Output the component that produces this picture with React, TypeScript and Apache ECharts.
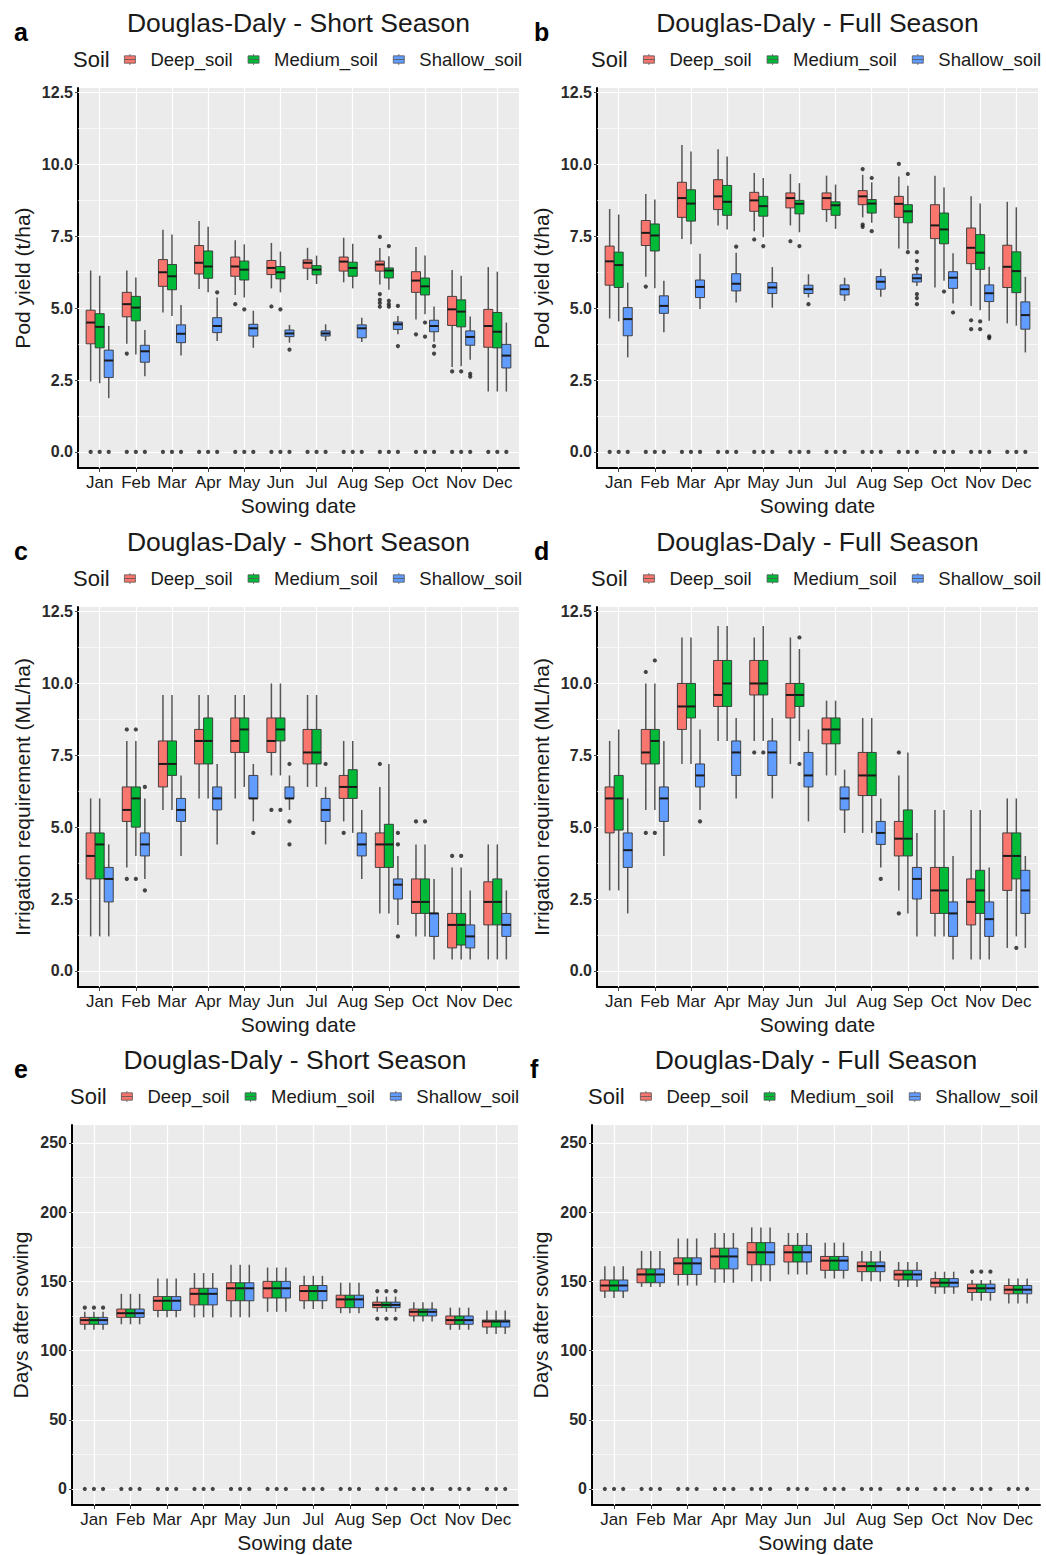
import React, { useEffect, useRef } from 'react';
import * as echarts from 'echarts';

const FONT = '"Liberation Sans", Arial, Helvetica, sans-serif';

const months = ['Jan', 'Feb', 'Mar', 'Apr', 'May', 'Jun', 'Jul', 'Aug', 'Sep', 'Oct', 'Nov', 'Dec'];
const monthPos = [1, 2, 3, 4, 5, 6, 7, 8, 9, 10, 11, 12];
const soils = ['Deep_soil', 'Medium_soil', 'Shallow_soil'];
const soilColors = ['#F8766D', '#00BA38', '#619CFF'];
const soilOffsets = [-0.25, 0, 0.25];

const yieldTicks = [0, 2.5, 5, 7.5, 10, 12.5];
const yieldMinor = [1.25, 3.75, 6.25, 8.75, 11.25];
const daysTicks = [0, 50, 100, 150, 200, 250];
const daysMinor = [25, 75, 125, 175, 225];

// each row: [lower whisker, Q1, median, Q3, upper whisker] for Jan..Dec
// a: Pod yield, short season
const aDeep = [
  [2.45, 3.76, 4.5, 4.93, 6.31], [3.76, 4.7, 5.14, 5.55, 6.31], [4.85, 5.76, 6.25, 6.69, 7.73],
  [5.67, 6.19, 6.58, 7.18, 8.03], [5.46, 6.11, 6.45, 6.78, 7.36], [5.69, 6.17, 6.4, 6.66, 7.27],
  [5.98, 6.39, 6.58, 6.68, 7.1], [5.9, 6.29, 6.62, 6.78, 7.45], [5.82, 6.29, 6.52, 6.64, 7.09],
  [4.61, 5.55, 5.96, 6.27, 7.13], [2.95, 4.4, 4.96, 5.41, 6.33], [2.1, 3.64, 4.38, 4.96, 6.43],
];
const aMedium = [
  [2.39, 3.62, 4.35, 4.81, 6.13], [3.39, 4.56, 5.02, 5.41, 6.07], [4.73, 5.64, 6.11, 6.52, 7.56],
  [5.55, 6.04, 6.45, 6.99, 7.83], [5.37, 5.98, 6.34, 6.64, 7.22], [5.55, 6.02, 6.25, 6.45, 6.97],
  [5.84, 6.16, 6.34, 6.48, 6.83], [5.69, 6.11, 6.4, 6.6, 7.24], [5.64, 6.05, 6.31, 6.4, 6.81],
  [4.79, 5.46, 5.76, 6.05, 6.83], [2.98, 4.35, 4.88, 5.29, 6.13], [2.1, 3.62, 4.18, 4.85, 6.27],
];
const aShallow = [
  [1.87, 2.59, 3.18, 3.54, 4.38], [2.63, 3.12, 3.5, 3.71, 4.24], [3.35, 3.8, 4.11, 4.42, 5.11],
  [3.86, 4.15, 4.38, 4.67, 5.37], [3.62, 4.03, 4.3, 4.44, 4.91], [3.8, 4.01, 4.12, 4.24, 4.42],
  [3.86, 4.03, 4.12, 4.21, 4.44], [3.82, 3.97, 4.3, 4.42, 4.67], [4.09, 4.26, 4.44, 4.52, 4.73],
  [3.83, 4.18, 4.38, 4.58, 5.06], [3.21, 3.71, 4.0, 4.21, 4.71], [2.1, 2.92, 3.35, 3.74, 4.5],
];
// outliers: [month (1-12), soil index, value]
const aOutliers = [
  [2, 0, 3.42], [4, 2, 5.55], [5, 0, 5.14], [5, 1, 4.96], [6, 0, 5.06], [6, 1, 4.96], [6, 2, 3.56],
  [9, 0, 7.48], [9, 0, 5.49], [9, 0, 5.29], [9, 0, 5.18], [9, 0, 5.05], [9, 1, 7.16], [9, 1, 5.26],
  [9, 1, 5.14], [9, 1, 5.05], [9, 2, 5.08], [9, 2, 3.68], [10, 0, 4.09], [10, 1, 4.5], [10, 1, 4.01],
  [10, 2, 3.68], [10, 2, 3.42], [11, 0, 2.8], [11, 1, 2.8], [11, 2, 2.72], [11, 2, 2.62],
];

// b: Pod yield, full season
const bDeep = [
  [4.64, 5.8, 6.63, 7.16, 8.45], [6.09, 7.18, 7.62, 8.05, 8.97], [7.41, 8.16, 8.83, 9.38, 10.68],
  [7.88, 8.43, 8.89, 9.47, 10.53], [7.68, 8.37, 8.75, 9.03, 9.7], [7.88, 8.49, 8.83, 9.01, 9.67],
  [8.0, 8.43, 8.83, 9.01, 9.61], [8.16, 8.6, 8.89, 9.09, 9.64], [7.08, 8.16, 8.63, 8.89, 9.58],
  [5.72, 7.42, 7.88, 8.6, 9.61], [5.08, 6.55, 7.1, 7.79, 8.89], [4.47, 5.72, 6.44, 7.19, 8.7],
];
const bMedium = [
  [4.54, 5.72, 6.5, 6.95, 8.26], [5.69, 6.99, 7.53, 7.93, 8.78], [7.22, 8.03, 8.64, 9.12, 10.45],
  [7.74, 8.23, 8.7, 9.27, 10.28], [7.47, 8.2, 8.55, 8.89, 9.53], [7.64, 8.28, 8.63, 8.75, 9.35],
  [7.76, 8.23, 8.58, 8.7, 9.3], [7.97, 8.31, 8.64, 8.78, 9.38], [7.04, 7.97, 8.37, 8.6, 9.26],
  [5.95, 7.24, 7.74, 8.31, 9.2], [4.93, 6.35, 6.93, 7.56, 8.64], [4.39, 5.54, 6.29, 6.96, 8.51],
];
const bShallow = [
  [3.29, 4.04, 4.62, 5.02, 5.89], [4.16, 4.82, 5.08, 5.43, 5.95], [4.97, 5.37, 5.74, 5.98, 6.89],
  [5.2, 5.6, 5.85, 6.2, 6.93], [5.02, 5.51, 5.72, 5.89, 6.43], [5.37, 5.51, 5.66, 5.8, 6.18],
  [5.25, 5.46, 5.66, 5.81, 6.06], [5.4, 5.66, 5.92, 6.1, 6.37], [5.77, 5.91, 6.04, 6.18, 6.32],
  [5.16, 5.69, 6.06, 6.27, 6.91], [4.56, 5.23, 5.52, 5.81, 6.44], [3.46, 4.27, 4.76, 5.22, 6.09],
];
const bOutliers = [
  [2, 0, 5.75], [4, 2, 7.14], [5, 0, 7.39], [5, 1, 7.16], [6, 0, 7.33], [6, 1, 7.16], [6, 2, 5.14],
  [8, 0, 9.84], [8, 0, 7.91], [8, 0, 7.83], [8, 1, 9.53], [8, 1, 7.68], [9, 0, 10.02], [9, 1, 9.67],
  [9, 1, 6.95], [9, 2, 6.95], [9, 2, 6.64], [9, 2, 6.37], [9, 2, 5.49], [9, 2, 5.35], [9, 2, 5.14],
  [10, 1, 5.58], [10, 2, 4.85], [11, 0, 4.58], [11, 0, 4.27], [11, 1, 4.54], [11, 1, 4.27],
  [11, 2, 4.02], [11, 2, 3.96],
];

// c: Irrigation requirement, short season
const cDeep = [
  [1.2, 3.2, 4.0, 4.8, 6.0], [3.6, 5.2, 5.6, 6.4, 8.0], [5.6, 6.4, 7.2, 8.0, 9.6], [6.0, 7.2, 8.0, 8.4, 9.6],
  [6.0, 7.6, 8.0, 8.8, 9.6], [6.8, 7.6, 8.0, 8.8, 10.0], [6.4, 7.2, 7.6, 8.4, 9.6], [5.2, 6.0, 6.4, 6.8, 8.0],
  [2.0, 3.6, 4.4, 4.8, 6.4], [1.2, 2.0, 2.4, 3.2, 4.4], [0.4, 0.8, 1.6, 2.0, 3.6], [0.4, 1.6, 2.4, 3.1, 4.4],
];
const cMedium = [
  [1.2, 3.2, 4.4, 4.8, 6.0], [4.0, 5.0, 6.0, 6.4, 8.0], [5.6, 6.8, 7.2, 8.0, 9.6], [6.0, 7.2, 8.0, 8.8, 9.6],
  [6.4, 7.6, 8.4, 8.8, 9.6], [6.8, 8.0, 8.4, 8.8, 10.0], [6.4, 7.2, 7.6, 8.4, 9.6], [4.8, 6.0, 6.4, 7.0, 8.0],
  [2.0, 3.6, 4.4, 5.1, 7.2], [1.2, 2.0, 2.4, 3.2, 4.4], [0.4, 0.9, 1.6, 2.0, 3.6], [0.4, 1.6, 2.4, 3.2, 4.4],
];
const cShallow = [
  [1.2, 2.4, 3.2, 3.6, 4.4], [3.2, 4.0, 4.4, 4.8, 6.0], [4.0, 5.2, 5.6, 6.0, 6.8], [4.4, 5.6, 6.0, 6.4, 7.2],
  [5.2, 6.0, 6.0, 6.8, 7.2], [5.6, 6.0, 6.0, 6.4, 6.8], [4.4, 5.2, 5.6, 6.0, 6.4], [3.2, 4.0, 4.4, 4.8, 5.6],
  [1.6, 2.5, 3.0, 3.2, 4.0], [0.4, 1.2, 2.0, 2.0, 3.2], [0.4, 0.8, 1.2, 1.6, 2.8], [0.4, 1.2, 1.6, 2.0, 2.8],
];
const cOutliers = [
  [2, 0, 8.4], [2, 0, 3.2], [2, 1, 8.4], [2, 1, 3.2], [2, 2, 6.4], [2, 2, 2.8], [5, 2, 4.8],
  [6, 0, 5.6], [6, 1, 5.6], [6, 2, 7.2], [6, 2, 5.2], [6, 2, 4.4], [7, 2, 7.2], [8, 0, 4.8],
  [9, 0, 7.2], [9, 2, 4.8], [9, 2, 4.4], [9, 2, 1.2], [10, 0, 5.2], [10, 1, 5.2], [11, 0, 4.0], [11, 1, 4.0],
];

// d: Irrigation requirement, full season
const dDeep = [
  [2.8, 4.8, 6.0, 6.4, 8.0], [5.6, 7.2, 7.6, 8.4, 10.0], [7.2, 8.4, 9.2, 10.0, 11.6], [8.0, 9.2, 9.6, 10.8, 12.0],
  [8.0, 9.6, 10.0, 10.8, 11.6], [7.2, 8.8, 9.6, 10.0, 11.6], [6.8, 7.9, 8.4, 8.8, 9.4], [4.8, 6.1, 6.8, 7.6, 8.8],
  [2.8, 4.0, 4.6, 5.2, 6.8], [1.2, 2.0, 2.8, 3.6, 5.6], [0.4, 1.6, 2.4, 3.2, 5.6], [0.8, 2.8, 4.0, 4.8, 6.0],
];
const dMedium = [
  [2.8, 4.9, 6.0, 6.8, 8.4], [5.6, 7.2, 8.0, 8.4, 10.0], [7.2, 8.8, 9.2, 10.0, 11.6], [8.0, 9.2, 10.0, 10.8, 12.0],
  [8.0, 9.6, 10.0, 10.8, 12.0], [8.0, 9.2, 9.6, 10.0, 11.2], [6.8, 7.9, 8.4, 8.8, 9.4], [4.8, 6.1, 6.8, 7.6, 8.8],
  [2.0, 4.0, 4.6, 5.6, 7.6], [1.2, 2.0, 2.8, 3.6, 5.6], [0.4, 2.0, 2.8, 3.5, 5.6], [1.2, 3.2, 4.0, 4.8, 6.0],
];
const dShallow = [
  [2.0, 3.6, 4.2, 4.8, 6.0], [4.0, 5.2, 6.0, 6.4, 8.0], [5.6, 6.4, 6.8, 7.2, 8.4], [6.0, 6.8, 7.6, 8.0, 8.8],
  [6.0, 6.8, 7.6, 8.0, 8.8], [5.2, 6.4, 6.8, 7.6, 8.4], [4.8, 5.6, 6.0, 6.4, 7.0], [3.6, 4.4, 4.8, 5.2, 6.0],
  [1.2, 2.5, 3.2, 3.6, 4.8], [0.4, 1.2, 2.0, 2.4, 4.0], [0.4, 1.2, 1.8, 2.4, 3.6], [0.8, 2.0, 2.8, 3.5, 4.0],
];
const dOutliers = [
  [2, 0, 10.4], [2, 0, 4.8], [2, 1, 10.8], [2, 1, 4.8], [3, 2, 5.2], [5, 0, 7.6], [5, 1, 7.6],
  [6, 1, 11.6], [6, 1, 7.2], [8, 2, 3.2], [9, 0, 7.6], [9, 0, 2.0], [12, 1, 0.8],
];

// e: Days after sowing, short season
const eDeep = [
  [115, 119, 122, 124, 128], [119, 124, 127, 130, 141], [124, 129, 136, 139, 152], [124, 133, 141, 145, 156],
  [124, 136, 145, 149, 162], [128, 138, 145, 150, 160], [130, 136, 143, 147, 154], [127, 131, 137, 140, 149],
  [128, 131, 133, 135, 139], [121, 125, 128, 130, 135], [115, 119, 122, 125, 131], [112, 117, 121, 122, 129],
];
const eMedium = [
  [115, 119, 122, 124, 128], [119, 124, 127, 130, 141], [124, 129, 136, 139, 152], [124, 133, 141, 145, 156],
  [124, 136, 145, 149, 162], [128, 138, 145, 150, 160], [130, 136, 143, 147, 154], [127, 131, 137, 140, 149],
  [128, 131, 133, 135, 139], [121, 125, 128, 130, 135], [115, 119, 122, 125, 131], [112, 117, 121, 122, 129],
];
const eShallow = [
  [115, 119, 122, 124, 128], [119, 124, 127, 130, 141], [124, 129, 136, 139, 152], [124, 133, 141, 145, 156],
  [124, 136, 145, 149, 162], [128, 138, 145, 150, 160], [130, 136, 143, 147, 154], [127, 131, 137, 140, 149],
  [128, 131, 133, 135, 139], [121, 125, 128, 130, 135], [115, 119, 122, 125, 131], [112, 117, 121, 122, 129],
];
const eOutliers = [
  [1, 0, 131], [1, 1, 131], [1, 2, 131], [9, 0, 143], [9, 1, 143], [9, 2, 143], [9, 0, 123], [9, 1, 123], [9, 2, 123],
];

// f: Days after sowing, full season
const fDeep = [
  [138, 143, 147, 151, 161], [146, 149, 155, 159, 172], [147, 155, 163, 167, 181], [149, 159, 168, 174, 185],
  [150, 162, 171, 178, 189], [155, 164, 171, 176, 185], [152, 158, 165, 168, 178], [150, 157, 161, 164, 172],
  [146, 151, 155, 158, 164], [141, 146, 149, 152, 157], [136, 142, 145, 148, 151], [134, 141, 144, 147, 152],
];
const fMedium = [
  [138, 143, 147, 151, 161], [146, 149, 155, 159, 172], [147, 155, 163, 167, 181], [149, 159, 168, 174, 185],
  [150, 162, 171, 178, 189], [155, 164, 171, 176, 185], [152, 158, 165, 168, 178], [150, 157, 161, 164, 172],
  [146, 151, 155, 158, 164], [141, 146, 149, 152, 157], [136, 142, 145, 148, 151], [134, 141, 144, 147, 152],
];
const fShallow = [
  [138, 143, 147, 151, 161], [146, 149, 155, 159, 172], [147, 155, 163, 167, 181], [149, 159, 168, 174, 185],
  [150, 162, 171, 178, 189], [155, 164, 171, 176, 185], [152, 158, 165, 168, 178], [150, 157, 161, 164, 172],
  [146, 151, 155, 158, 164], [141, 146, 149, 152, 157], [136, 142, 145, 148, 151], [134, 141, 144, 147, 152],
];
const fOutliers = [[11, 0, 157], [11, 1, 157], [11, 2, 157]];

// months in which every soil has failed runs at 0 (panels a, b, e, f)
const failedRunMonths = [1, 2, 3, 4, 5, 6, 7, 8, 9, 10, 11, 12];

const panels = [
  { letter: 'a', title: 'Douglas-Daly - Short Season', yName: 'Pod yield (t/ha)', boxes: [aDeep, aMedium, aShallow], outliers: aOutliers, zeros: true, kind: 'yield', left: 78, top: 88, width: 441, soilLeft: 73, legendLeft: 124, letterLeft: 14, nameGap: 45 },
  { letter: 'b', title: 'Douglas-Daly - Full Season', yName: 'Pod yield (t/ha)', boxes: [bDeep, bMedium, bShallow], outliers: bOutliers, zeros: true, kind: 'yield', left: 597, top: 88, width: 441, soilLeft: 591, legendLeft: 643, letterLeft: 534, nameGap: 45 },
  { letter: 'c', title: 'Douglas-Daly - Short Season', yName: 'Irrigation requirement (ML/ha)', boxes: [cDeep, cMedium, cShallow], outliers: cOutliers, zeros: false, kind: 'yield', left: 78, top: 607, width: 441, soilLeft: 73, legendLeft: 124, letterLeft: 14, nameGap: 45 },
  { letter: 'd', title: 'Douglas-Daly - Full Season', yName: 'Irrigation requirement (ML/ha)', boxes: [dDeep, dMedium, dShallow], outliers: dOutliers, zeros: false, kind: 'yield', left: 597, top: 607, width: 441, soilLeft: 591, legendLeft: 643, letterLeft: 534, nameGap: 45 },
  { letter: 'e', title: 'Douglas-Daly - Short Season', yName: 'Days after sowing', boxes: [eDeep, eMedium, eShallow], outliers: eOutliers, zeros: true, kind: 'days', left: 72, top: 1125, width: 446, soilLeft: 70, legendLeft: 121, letterLeft: 14, nameGap: 41 },
  { letter: 'f', title: 'Douglas-Daly - Full Season', yName: 'Days after sowing', boxes: [fDeep, fMedium, fShallow], outliers: fOutliers, zeros: true, kind: 'days', left: 592, top: 1125, width: 448, soilLeft: 588, legendLeft: 640, letterLeft: 530, nameGap: 41 },
];

const PLOT_H = 380;
const BOX_HALF = 0.125;
const WHISKER = '#555555';
const BORDER = '#333333';

function makeRenderItem(offset: number, color: string) {
  return function (_params: any, api: any) {
    const x = api.value(0) + offset;
    const lo = api.coord([x, api.value(1)]);
    const q1 = api.coord([x, api.value(2)]);
    const md = api.coord([x, api.value(3)]);
    const q3 = api.coord([x, api.value(4)]);
    const hi = api.coord([x, api.value(5)]);
    const hw = api.size([BOX_HALF, 0])[0];
    const cx = lo[0];
    return {
      type: 'group',
      children: [
        { type: 'line', shape: { x1: cx, y1: hi[1], x2: cx, y2: q3[1] }, style: { stroke: WHISKER, lineWidth: 1.5 } },
        { type: 'line', shape: { x1: cx, y1: q1[1], x2: cx, y2: lo[1] }, style: { stroke: WHISKER, lineWidth: 1.5 } },
        { type: 'rect', shape: { x: cx - hw, y: q3[1], width: hw * 2, height: Math.max(q1[1] - q3[1], 1) }, style: { fill: color, stroke: BORDER, lineWidth: 0.9 } },
        { type: 'line', shape: { x1: cx - hw, y1: md[1], x2: cx + hw, y2: md[1] }, style: { stroke: '#1a1a1a', lineWidth: 2 } },
      ],
    };
  };
}

const legendIcon = 'path://M0,2H12V10H0ZM0,6H12M6,0V2M6,10V12';

function buildOption() {
  const option: any = {
    animation: false,
    textStyle: { fontFamily: FONT },
    title: [],
    legend: [],
    grid: [],
    xAxis: [],
    yAxis: [],
    series: [],
  };
  panels.forEach((p, pi) => {
    const isDays = p.kind === 'days';
    const ticks = isDays ? daysTicks : yieldTicks;
    const minor = isDays ? daysMinor : yieldMinor;
    const yMin = isDays ? -11.6 : -0.56;
    const yMax = isDays ? 263 : 12.66;

    option.title.push({
      text: p.title, left: p.left + p.width / 2, top: p.top - 79, textAlign: 'center', padding: 0,
      textStyle: { fontSize: 26.5, fontWeight: 'normal', color: '#1a1a1a', fontFamily: FONT },
    });
    option.title.push({
      text: p.letter, left: p.letterLeft, top: p.top - 69, padding: 0,
      textStyle: { fontSize: 25, fontWeight: 'bold', color: '#000', fontFamily: FONT },
    });
    option.title.push({
      text: 'Soil', left: p.soilLeft, top: p.top - 40, padding: 0,
      textStyle: { fontSize: 22, fontWeight: 'normal', color: '#1a1a1a', fontFamily: FONT },
    });
    option.legend.push({
      data: soils, left: p.legendLeft, top: p.top - 38, padding: 0, itemGap: 15,
      itemWidth: 11, itemHeight: 11, icon: legendIcon, selectedMode: false,
      itemStyle: { borderColor: '#555', borderWidth: 0.8 },
      textStyle: { fontSize: 18.5, color: '#1a1a1a', fontFamily: FONT, padding: [0, 0, 0, 10] },
    });
    option.grid.push({
      left: p.left, top: p.top, width: p.width, height: PLOT_H, show: true,
      backgroundColor: '#EBEBEB', borderWidth: 0,
    });
    option.xAxis.push({
      type: 'value', gridIndex: pi, min: 0.4, max: 12.6,
      name: 'Sowing date', nameLocation: 'middle', nameGap: 27,
      nameTextStyle: { fontSize: 21, color: '#1a1a1a', fontFamily: FONT },
      axisLine: { show: true, onZero: false, lineStyle: { color: '#000', width: 2 } },
      axisTick: { show: true, customValues: monthPos, length: 4, lineStyle: { color: '#444' } },
      axisLabel: {
        customValues: monthPos, margin: 6, fontSize: 17, color: '#1a1a1a', fontFamily: FONT,
        formatter: (v: number) => months[Math.round(v) - 1],
      },
      splitLine: { show: false },
    });
    option.yAxis.push({
      type: 'value', gridIndex: pi, min: yMin, max: yMax,
      name: p.yName, nameLocation: 'middle', nameGap: p.nameGap,
      nameTextStyle: { fontSize: 21, color: '#1a1a1a', fontFamily: FONT },
      axisLine: { show: true, onZero: false, lineStyle: { color: '#000', width: 2 } },
      axisTick: { show: true, customValues: ticks, length: 3, lineStyle: { color: '#444' } },
      axisLabel: {
        customValues: ticks, margin: 5, fontSize: 16, fontWeight: 'bold', color: '#2a2a2a', fontFamily: FONT,
        formatter: (v: number) => (isDays ? String(Math.round(v)) : v.toFixed(1)),
      },
      splitLine: { show: false },
    });

    p.boxes.forEach((rows, s) => {
      option.series.push({
        type: 'custom', name: soils[s], xAxisIndex: pi, yAxisIndex: pi, z: 5,
        itemStyle: { color: soilColors[s] },
        renderItem: makeRenderItem(soilOffsets[s], soilColors[s]),
        encode: { x: 0, y: [1, 2, 3, 4, 5] },
        data: rows.map((r, i) => [monthPos[i], ...r]),
      });
    });

    const pts: number[][] = p.outliers.map((o) => [o[0] + soilOffsets[o[1]], o[2]]);
    if (p.zeros) {
      failedRunMonths.forEach((m) => {
        soilOffsets.forEach((off) => pts.push([m + off, 0]));
      });
    }
    const gridLines: any[] = [];
    ticks.forEach((v) => gridLines.push({ yAxis: v, lineStyle: { color: '#ffffff', width: 1.2, type: 'solid' } }));
    minor.forEach((v) => gridLines.push({ yAxis: v, lineStyle: { color: '#ffffff', width: 0.6, type: 'solid' } }));
    monthPos.forEach((v) => gridLines.push({ xAxis: v, lineStyle: { color: '#ffffff', width: 1.2, type: 'solid' } }));

    option.series.push({
      type: 'scatter', name: 'outliers-' + p.letter, xAxisIndex: pi, yAxisIndex: pi, z: 6,
      symbolSize: 4.2, itemStyle: { color: '#1a1a1a' }, silent: true,
      data: pts,
      markLine: {
        z: 1, silent: true, symbol: ['none', 'none'], label: { show: false }, animation: false,
        emphasis: { disabled: true },
        data: gridLines,
      },
    });
  });
  return option;
}

export default function App() {
  const ref = useRef<HTMLDivElement>(null);
  useEffect(() => {
    document.body.style.margin = '0';
    const chart = echarts.init(ref.current as HTMLDivElement, null, { renderer: 'svg', width: 1046, height: 1555 });
    chart.setOption(buildOption());
    return () => chart.dispose();
  }, []);
  return <div ref={ref} style={{ width: 1046, height: 1555, background: '#fff' }} />;
}
